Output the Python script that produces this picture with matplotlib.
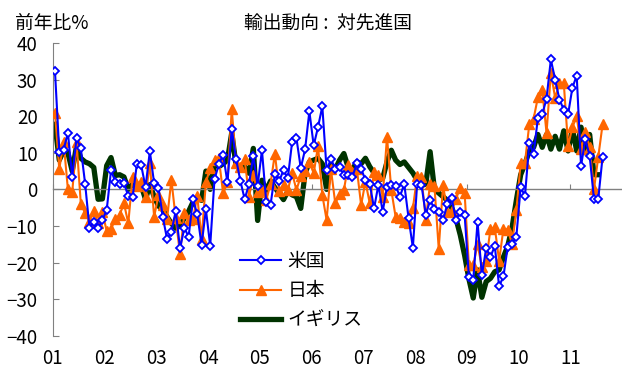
import matplotlib
matplotlib.use("Agg")
import matplotlib.pyplot as plt
import numpy as np

plt.rcParams['font.family'] = ['Noto Sans CJK JP', 'DejaVu Sans']

# Year labels (tick at each January boundary)
years = ["01", "02", "03", "04", "05", "06", "07", "08", "09", "10", "11"]

# Exports to advanced economies, year-on-year % change (monthly, from Jan 2001)
us = [32.4, 10.3, 10.8, 15.5, 3.3, 14.0, 11.2, 1.5, -10.5, -8.8, -10.6, -8.4,
      -5.6, 5.2, 2.1, 1.5, 1.7, -1.8, -2.2, 7.0, 6.6, 0.6, 10.4, 1.7,
      0.5, -7.5, -13.6, -11.7, -5.9, -16.1, -10.6, -12.9, -2.7, -6.8, -15.2, -5.5,
      -15.4, 2.8, 6.8, 9.5, 1.9, 16.6, 8.3, 2.3, -2.7, 1.5, 9.1, 1.0,
      10.7, -3.5, -4.2, 4.2, 2.2, 5.3, 3.0, 13.0, 14.0, 5.8, 10.9, 21.3,
      12.0, 17.0, 22.7, 5.3, 8.3, 5.7, 6.2, 3.9, 3.9, 3.5, 7.1, 5.7,
      2.5, 1.6, -5.2, 1.2, -6.1, 0.7, 1.2, 1.0, -2.0, 1.5, -7.8, -15.9,
      1.6, 1.2, -6.9, -3.0, -5.3, -6.1, -8.4, -4.0, -2.4, -8.4, -6.1, -6.9,
      -24.0, -24.9, -8.8, -23.5, -16.1, -18.4, -15.5, -26.5, -23.8, -15.7, -15.0, -12.9,
      0.6, -1.8, 12.7, 9.6, 19.6, 20.5, 24.8, 35.5, 30.0, 24.5, 21.8, 20.5,
      27.8, 31.1, 6.4, 13.7, 9.2, -2.7, -2.5, 8.9]

japan = [21.0, 5.5, 13.0, 0.0, -0.8, 13.0, -4.0, -6.5, -8.8, -6.0, -9.1, -6.2,
         -11.4, -10.8, -8.2, -7.0, -3.8, -9.3, 3.5, 0.8, 2.1, -2.0, 7.1, -7.5,
         -1.6, -4.3, -8.0, 2.6, -7.9, -17.7, -6.5, -8.3, -8.1, -1.8, -13.5, 1.9,
         5.9, 8.0, 8.5, -1.1, 1.9, 21.9, 7.1, 6.2, 8.2, -2.0, 3.9, -0.6,
         -0.2, -2.9, 1.5, 9.8, -0.5, 1.2, -0.2, 4.5, -0.2, 3.6, 5.0, 7.5,
         4.4, 11.8, -1.5, -8.4, 5.5, -3.8, -1.3, -0.2, 6.6, 4.8, 5.7, -4.3,
         2.1, -3.8, 4.8, 3.9, -2.0, 14.4, -0.2, -7.5, -7.9, -8.8, -9.3, -5.2,
         3.6, 3.3, -8.3, 1.6, 1.0, -16.3, 1.2, -6.2, -5.9, -2.6, 0.5, -1.0,
         -20.8, -20.8, -15.0, -21.2, -19.5, -10.8, -10.4, -19.5, -10.8, -11.0, -15.0, -5.6,
         7.1, 7.3, 17.8, 19.3, 25.2, 27.2, 15.4, 31.8, 25.0, 29.0, 29.0, 11.9,
         17.0, 20.0, 11.0, 15.8, 11.5, 0.0, 8.9, 17.8]

uk = [17.8, 8.0, 10.5, 10.0, 5.0, 11.8, 8.5, 7.5, 7.0, 6.0, -2.7, -2.6,
      6.5, 8.7, 3.8, 4.0, 3.4, 0.0, 1.5, 0.5, 1.0, -2.7, 1.3, -2.0,
      -4.5, -5.6, -7.5, -9.3, -10.6, -10.0, -7.8, -6.0, -3.5, -2.5, -3.0, 5.0,
      0.0, 7.0, 6.2, 7.0, 8.0, 15.5, 6.5, 5.5, 6.2, 4.4, 11.2, -8.5,
      2.5, -0.3, 2.3, 0.5, -1.1, -2.8, -0.5, -1.5, -2.0, -5.2, 4.4, 7.5,
      8.0, 8.5, 7.0, 0.0, 6.6, 5.5, 8.0, 9.8, 6.0, 5.5, 7.5, 7.0,
      8.5, 6.2, 4.5, 2.5, 3.0, 7.5, 10.7, 8.0, 6.8, 7.5, 6.0, 4.5,
      2.5, 1.0, 1.5, 10.3, 0.0, -1.0, -2.0, -3.0, -5.0, -8.0, -12.5, -18.0,
      -24.5, -29.7, -22.0, -29.5, -25.2, -24.3, -22.5, -22.0, -18.5, -15.5, -10.5, -3.0,
      4.0, 7.0, 10.5, 11.5, 15.0, 11.5, 15.0, 11.0, 14.5, 11.0, 16.0, 10.5,
      16.5, 10.5, 17.0, 10.0, 15.0, 4.0, 4.0]

series_names = ["米国", "日本", "イギリス"]
y_ticks = [40, 30, 20, 10, 0, -10, -20, -30, -40]

GRAY = "#808080"
FS = 13.5

fig = plt.figure(figsize=(6.22, 3.69), dpi=100)
ax = fig.add_axes([0.0849, 0.0902, 0.9151, 0.7932])

h_uk, = ax.plot(np.arange(len(uk)), uk, color="#003300", lw=3.8,
                solid_joinstyle="round", zorder=2)
h_jp, = ax.plot(np.arange(len(japan)), japan, color="#FF6600", lw=1.5,
                marker="^", ms=6.5, mec="#FF6600", mfc="#FF6600", zorder=3)
h_us, = ax.plot(np.arange(len(us)), us, color="#0000FF", lw=1.5,
                marker="D", ms=4, mec="#0000FF", mfc="white", mew=1.3, zorder=4)

ax.set_xlim(-0.5, 131.5)
ax.set_ylim(-40, 40)

for side in ("top", "right"):
    ax.spines[side].set_visible(False)
ax.spines["left"].set_color(GRAY)
ax.spines["bottom"].set_position(("data", 0))
ax.spines["bottom"].set_color(GRAY)
ax.spines["bottom"].set_linewidth(1.0)

year_pos = np.arange(len(years)) * 12 - 0.5
ax.set_xticks(year_pos)
ax.tick_params(axis="x", direction="in", length=3.5, color=GRAY, labelbottom=False)

ax.set_yticks(y_ticks)
ax.tick_params(axis="y", direction="in", length=4, color=GRAY, pad=11, labelsize=FS)

sec = ax.secondary_xaxis("bottom")
sec.set_xticks(year_pos, labels=years)
sec.tick_params(length=0, pad=9, labelsize=FS)
sec.spines["bottom"].set_visible(False)

fig.text(0.527, 0.935, "輸出動向 :  対先進国", ha="center", va="center", fontsize=FS)
fig.text(15 / 622, 0.937, "前年比%", ha="left", va="center", fontsize=FS)

ax.legend([h_us, h_jp, h_uk], series_names, loc="upper left",
          bbox_to_anchor=(240 / 622, 1 - 251 / 369), bbox_transform=fig.transFigure,
          frameon=False, fontsize=FS, handlelength=2.2, handletextpad=0.35,
          labelspacing=0.45, borderpad=0, borderaxespad=0)

fig.savefig("out.png", dpi=100)
